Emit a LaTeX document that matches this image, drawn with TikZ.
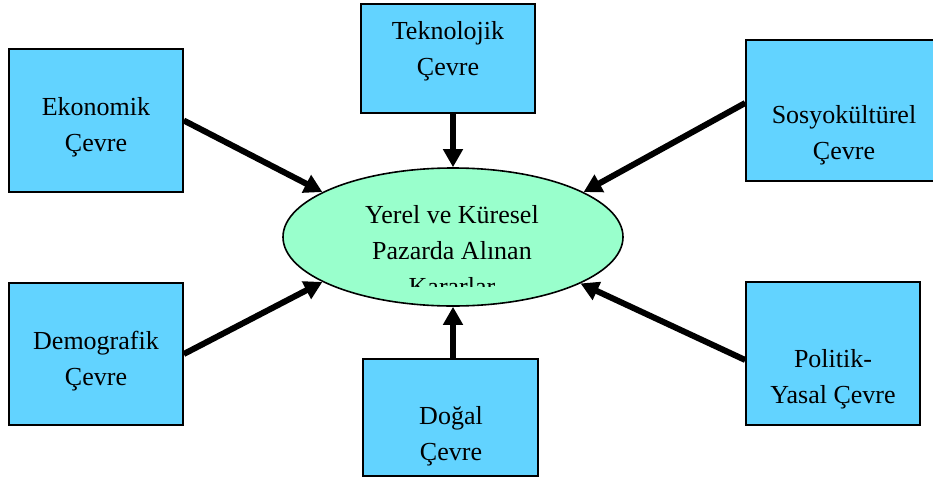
\documentclass[tikz,border=0pt]{standalone}
\usepackage{fontspec}
\setmainfont{Liberation Serif}
\usetikzlibrary{arrows.meta,shapes.geometric}

\definecolor{boxblue}{RGB}{98,211,255}
\definecolor{mint}{RGB}{153,255,204}

\begin{document}
\begin{tikzpicture}[x=1pt,y=-1pt,
  envbox/.style={draw=black,line width=1.6pt,fill=boxblue,rectangle,inner sep=0pt},
  lbl/.style={align=center,inner sep=0pt,font=\fontsize{26}{36}\selectfont},
  flow/.style={line width=6pt,-{Triangle[length=18pt,width=19pt]}},
]
\clip (0,0) rectangle (933,479);

% environment boxes
\node[envbox,minimum width=174pt,minimum height=143pt] (eko) at (96,120.5) {};
\node[envbox,minimum width=174pt,minimum height=109pt] (tek) at (448,58.5) {};
\node[envbox,minimum width=196pt,minimum height=141pt] (sos) at (844,110.5) {};
\node[envbox,minimum width=174pt,minimum height=142pt] (dem) at (96,354) {};
\node[envbox,minimum width=175pt,minimum height=117pt] (dog) at (450.5,417.5) {};
\node[envbox,minimum width=174pt,minimum height=143pt] (pol) at (833,353.5) {};

% box labels
\node[lbl] (ekot) at (96,127) {Ekonomik\\Çevre};
\node[lbl] (tekt) at (448,51) {Teknolojik\\Çevre};
\node[lbl] (sost) at (844,135) {Sosyokültürel\\Çevre};
\node[lbl] (demt) at (96,361) {Demografik\\Çevre};
\node[lbl] (dogt) at (451,436) {Doğal\\Çevre};
\node[lbl] (polt) at (833,379) {Politik-\\Yasal Çevre};

% central ellipse
\node[ellipse,draw=black,line width=1.6pt,fill=mint,minimum width=340pt,minimum height=138pt,inner sep=0pt] (ell) at (453,237) {};
\begin{scope}
  \clip (283,160) rectangle (623,286);
  \node[lbl] (core) at (452,251) {Yerel ve Küresel\\Pazarda Alınan\\Kararlar};
\end{scope}

% influences
\draw[flow] (eko.east) -- (ell.161);
\draw[flow] (tek.south -| ell.north) -- (ell.north);
\draw[flow] ([yshift=7.5pt]sos.west) -- (ell.19);
\draw[flow] (dem.east) -- (ell.199);
\draw[flow] (dog.north -| ell.south) -- (ell.south);
\draw[flow] ([yshift=-6.5pt]pol.west) -- (ell.340);
\end{tikzpicture}
\end{document}
